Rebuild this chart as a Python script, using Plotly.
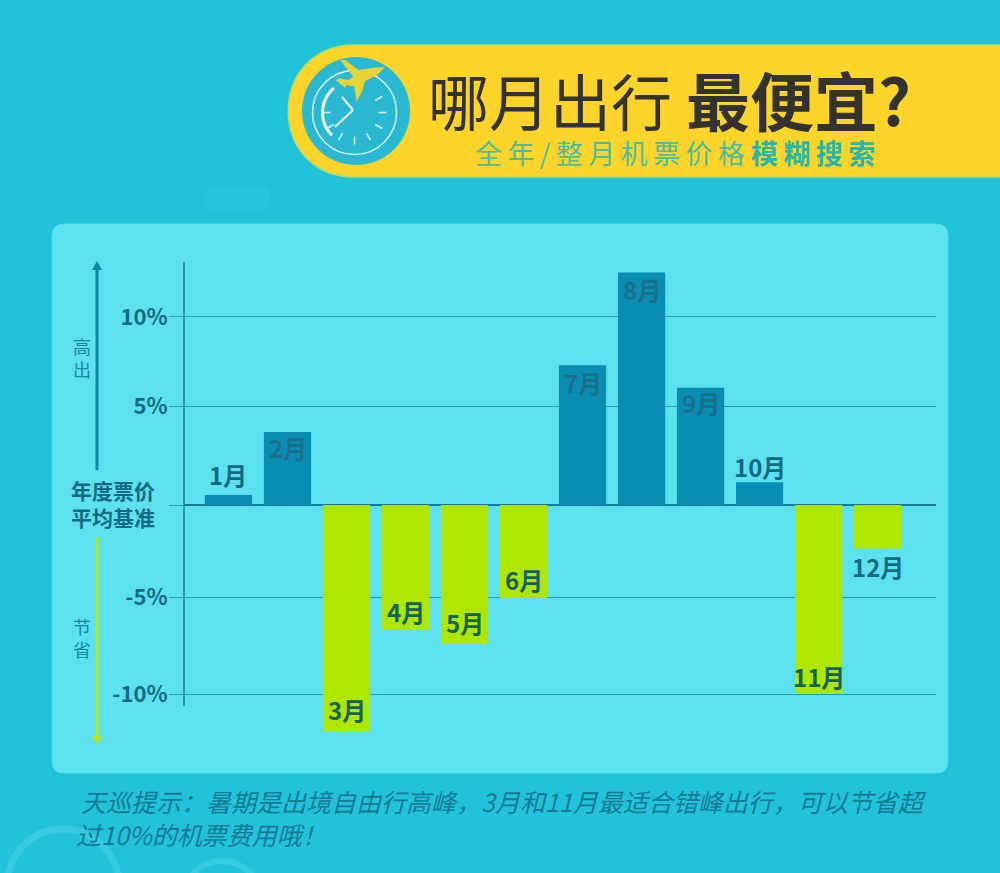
import math
import plotly.graph_objects as go

months = ['1月', '2月', '3月', '4月', '5月', '6月', '7月', '8月', '9月', '10月', '11月', '12月']
values = [0.53, 3.86, -11.96, -6.6, -7.35, -4.92, 7.4, 12.3, 6.2, 1.2, -9.95, -2.3]
tick_vals = [9.95, 5.2, 0, -4.87, -10]
tick_text = ['10%', '5%', '', '-5%', '-10%']
# pixels from the bar end to the middle of its month label, up is positive
label_shift = [20, -15, 22, 18, 21, 18, -17, -17, -15, 16, 17, -18]

W = 1000
H = 873
FONT = 'Noto Sans CJK SC'
BLUE = '#0a8db3'
GREEN = '#aee600'
DARK = '#136a85'
PER_PCT = 18.9  # pixels per percent on the y axis
ZERO_Y = 505

#helpers: picture pixels to paper coordinates
def px(x):
    return x / W

def py(y):
    return 1 - y / H

def poly(points, close=True):
    d = 'M' + ' L'.join(f'{px(x):.4f},{py(y):.4f}' for x, y in points)
    return d + ' Z' if close else d

def rounded(x0, y0, x1, y1, r):
    # x/y radii differ in paper units so the corner stays round on screen
    rx, ry = px(r), r / H
    return (f'M{px(x0 + r)},{py(y0)} L{px(x1 - r)},{py(y0)} '
            f'Q{px(x1)},{py(y0)} {px(x1)},{py(y0) - ry} L{px(x1)},{py(y1) + ry} '
            f'Q{px(x1)},{py(y1)} {px(x1) - rx},{py(y1)} L{px(x0 + r)},{py(y1)} '
            f'Q{px(x0)},{py(y1)} {px(x0)},{py(y1) + ry} L{px(x0)},{py(y0) - ry} '
            f'Q{px(x0)},{py(y0)} {px(x0 + r)},{py(y0)} Z')

def circle(cx, cy, r, **kw):
    return dict(type='circle', xref='paper', yref='paper', x0=px(cx - r), x1=px(cx + r),
                y0=py(cy + r), y1=py(cy - r), layer='below', **kw)

def seg(x0, y0, x1, y1, color, width):
    return dict(type='line', xref='paper', yref='paper', x0=px(x0), y0=py(y0), x1=px(x1), y1=py(y1),
                line=dict(color=color, width=width), layer='below')

def path(d, fill, line_color=None, line_width=0):
    return dict(type='path', xref='paper', yref='paper', path=d, fillcolor=fill,
                line=dict(color=line_color or fill, width=line_width), layer='below')

shapes = []

#faint marks in the background
shapes.append(circle(63, 885, 56, line=dict(color='#38cadf', width=7)))
shapes.append(circle(222, 900, 39, line=dict(color='#38cadf', width=6)))
shapes.append(path(rounded(205, 186, 270, 210, 6), '#25c5dc'))

#panel behind the chart
shapes.append(path(rounded(52, 224, 948, 773, 12), '#5ce1ee', '#4fdcec', 1))

#banner
banner = (f'M{px(1001)},{py(45)} L{px(355)},{py(45)} '
          f'C{px(266)},{py(45)} {px(266)},{py(177)} {px(355)},{py(177)} L{px(1001)},{py(177)} Z')
shapes.append(path(banner, '#fdd52a', '#b9dc5c', 1.5))

#clock badge
CX, CY = 354.5, 112.5
CLOCK = '#d8f6f8'
shapes.append(circle(356, 111, 54, fillcolor='#2bb8d2', line=dict(color='#2bb8d2', width=0)))
shapes.append(circle(CX, CY, 42, line=dict(color=CLOCK, width=1.5)))
for h in range(2, 10):
    a = math.radians(h * 30)
    shapes.append(seg(CX + 24 * math.sin(a), CY - 24 * math.cos(a),
                      CX + 32 * math.sin(a), CY - 32 * math.cos(a), CLOCK, 1.5))
arc = [(CX + 32 * math.sin(math.radians(d)), CY - 32 * math.cos(math.radians(d))) for d in range(225, 325, 5)]
shapes.append(dict(type='path', xref='paper', yref='paper', path=poly(arc, close=False),
                   line=dict(color='#f0fcfc', width=3), layer='below'))
shapes.append(seg(353, 110, 342, 97, '#e6fafa', 2))
shapes.append(seg(353, 110, 335, 127, '#e6fafa', 2))

#plane on the clock, outline read in a 3x crop starting at (290, 45)
plane_zoom = [(285, 66), (262, 90), (225, 108), (218, 135), (200, 170), (193, 125), (170, 120), (165, 128),
              (137, 105), (148, 100), (175, 105), (190, 95), (150, 45), (165, 45), (205, 75), (250, 68)]
plane = [(290 + x / 3, 45 + y / 3) for x, y in plane_zoom]
shapes.append(path(poly(plane), '#e8d435'))

#direction arrows left of the axis
shapes.append(seg(97, 470, 97, 268, '#0f86a8', 3))
shapes.append(path(poly([(97, 261), (92, 270), (102, 270)]), '#0f86a8'))
shapes.append(seg(97, 537, 97, 738, '#b5e61d', 3))
shapes.append(path(poly([(97, 745), (92, 736), (102, 736)]), '#b5e61d'))

#the vertical axis stops before the longest bar does
shapes.append(seg(184, 262, 184, 706, '#1a7f98', 1.5))

fig = go.Figure()

fig.add_trace(go.Bar(
    x=months,
    y=values,
    marker_color=[BLUE if v > 0 else GREEN for v in values],
    marker_line_width=0,
    cliponaxis=False,
    hoverinfo='skip',
))

#month labels sit on or next to the end of each bar
for m, v, shift in zip(months, values, label_shift):
    if v > 0 and shift < 0:
        color = '#1a6f8c'
    elif v < 0 and shift > 0:
        color = '#14625f'
    else:
        color = DARK
    fig.add_annotation(x=m, y=v, yshift=shift, text=f'<b>{m}</b>', showarrow=False,
                       xanchor='center', yanchor='middle',
                       font=dict(family=FONT, size=24, color=color))

def note(x, y, text, size, color, anchor='left', **font):
    fig.add_annotation(xref='paper', yref='paper', x=px(x), y=py(y), text=text, showarrow=False,
                       xanchor=anchor, yanchor='middle', align='left' if anchor == 'left' else 'center',
                       font=dict(family=FONT, size=size, color=color, **font))

note(426, 99, '哪月出行', 61, '#33322f')
note(684, 98, '<b>最便宜?</b>', 64, '#33322f')
note(473, 152, '\u2009'.join('全年/整月机票价格'), 27, '#4cbd9c')
note(749, 152, '<b>' + '\u2009'.join('模糊搜索') + '</b>', 27, '#2ab5a8')

note(113, 504, '<b>年度票价<br>平均基准</b>', 21, DARK, 'center')
note(82, 357, '高<br>出', 18, '#1a86a5', 'center')
note(82, 637, '节<br>省', 18, '#1a86a5', 'center')

note(74, 817, '\u2009天巡提示：暑期是出境自由行高峰，3月和11月最适合错峰出行，可以节省超<br>过10%的机票费用哦！',
     25, '#157a94', style='italic')

fig.update_layout(
    width=W,
    height=H,
    margin=dict(l=0, r=0, t=0, b=0),
    paper_bgcolor='#21c3da',
    plot_bgcolor='rgba(0,0,0,0)',
    showlegend=False,
    bargap=0.2,
    shapes=shapes,
    xaxis=dict(domain=[px(184), px(936)], range=[-0.754, 11.99], type='category',
               showticklabels=False, showgrid=False, zeroline=False, ticks=''),
    yaxis=dict(domain=[py(760), py(262)],
               range=[(ZERO_Y - 760) / PER_PCT, (ZERO_Y - 262) / PER_PCT],
               tickvals=tick_vals, ticktext=tick_text,
               tickfont=dict(family=FONT, size=22, color=DARK, weight='bold'),
               ticklabelstandoff=-3,
               ticks='outside', ticklen=14, tickwidth=1, tickcolor='#2a9cb5',
               showgrid=True, gridcolor='#2a9cb5', gridwidth=1,
               zeroline=True, zerolinecolor='#157a94', zerolinewidth=1.5,
               showline=False),
)

fig.write_html('out.html', config=dict(displayModeBar=False),
               post_script="document.body.style.margin='0';document.documentElement.style.overflow='hidden';")
